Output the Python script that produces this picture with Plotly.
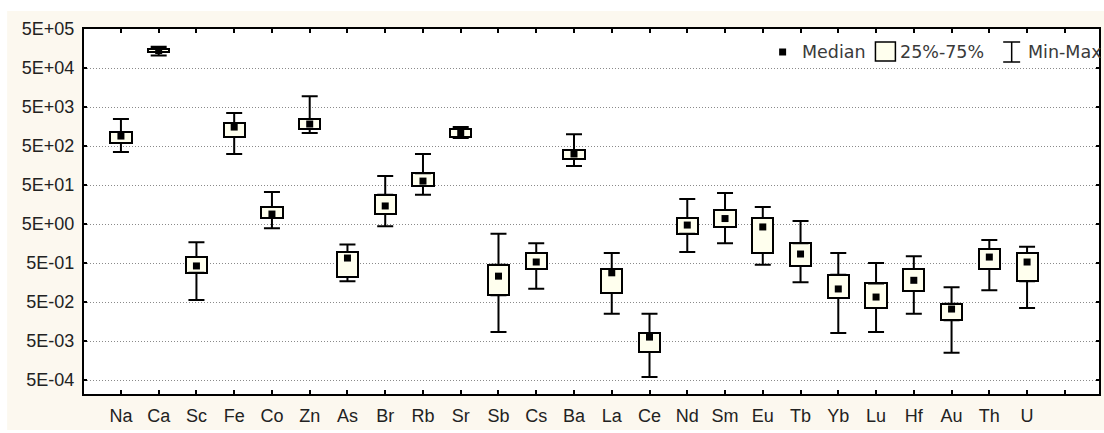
import plotly.graph_objects as go

# Element concentrations: min, quartiles, median and max per element
elements = ["Na", "Ca", "Sc", "Fe", "Co", "Zn", "As", "Br", "Rb", "Sr", "Sb", "Cs", "Ba",
            "La", "Ce", "Nd", "Sm", "Eu", "Tb", "Yb", "Lu", "Hf", "Au", "Th", "U"]
vmin = [350, 105000, 0.056, 310, 3.9, 1080, 0.17, 4.4, 28, 800, 0.0085, 0.11, 153,
        0.025, 0.0006, 0.96, 1.6, 0.45, 0.16, 0.008, 0.0085, 0.025, 0.0025, 0.10, 0.035]
q1 = [600, 128000, 0.28, 850, 7.1, 1370, 0.22, 9.0, 47, 850, 0.075, 0.35, 232,
      0.085, 0.0026, 2.8, 4.2, 0.90, 0.42, 0.063, 0.035, 0.096, 0.017, 0.35, 0.17]
median = [900, 140000, 0.42, 1530, 9.0, 1830, 0.67, 14.5, 63, 1080, 0.23, 0.53, 312,
          0.28, 0.0063, 4.7, 6.9, 4.2, 0.85, 0.108, 0.067, 0.18, 0.033, 0.71, 0.53]
q3 = [1150, 158000, 0.71, 1950, 13.6, 2460, 0.96, 28, 100, 1360, 0.45, 0.90, 394,
      0.35, 0.008, 7.1, 11.4, 7.1, 1.6, 0.25, 0.15, 0.35, 0.045, 1.14, 0.90]
vmax = [2450, 175000, 1.7, 3500, 33, 9500, 1.5, 85, 310, 1530, 2.8, 1.6, 1000,
        0.90, 0.025, 22, 31, 13.6, 6.0, 0.90, 0.5, 0.75, 0.12, 1.95, 1.3]

y_tickvals = [5e-4, 5e-3, 5e-2, 5e-1, 5e0, 5e1, 5e2, 5e3, 5e4, 5e5]
y_ticktext = ["5E-04", "5E-03", "5E-02", "5E-01", "5E+00",
              "5E+01", "5E+02", "5E+03", "5E+04", "5E+05"]

BOX_FILL = "#FFFFEE"
PAGE_CREAM = "#FCF8EF"
TEXT = "#222222"
FONT = "Liberation Sans, Arial, sans-serif"
LEGEND_FONT = "DejaVu Sans, Verdana, sans-serif"

xpos = list(range(len(elements)))
zeros = [0] * len(elements)

fig = go.Figure()

# 25%-75% boxes
fig.add_trace(go.Bar(
    x=xpos, base=q1, y=[b - a for a, b in zip(q1, q3)],
    width=0.56, marker=dict(color=BOX_FILL, line=dict(color="black", width=2)),
    showlegend=False, hoverinfo="skip",
))

# upper whiskers (q3 -> max)
fig.add_trace(go.Scatter(
    x=xpos, y=q3, mode="markers", marker=dict(size=0.1, color="rgba(0,0,0,0)"),
    error_y=dict(type="data", symmetric=False,
                 array=[b - a for a, b in zip(q3, vmax)], arrayminus=zeros,
                 color="black", thickness=2, width=8),
    showlegend=False, hoverinfo="skip",
))

# lower whiskers (q1 -> min)
fig.add_trace(go.Scatter(
    x=xpos, y=q1, mode="markers", marker=dict(size=0.1, color="rgba(0,0,0,0)"),
    error_y=dict(type="data", symmetric=False,
                 array=zeros, arrayminus=[a - b for a, b in zip(q1, vmin)],
                 color="black", thickness=2, width=8),
    showlegend=False, hoverinfo="skip",
))

# medians
fig.add_trace(go.Scatter(
    x=xpos, y=median, mode="markers",
    marker=dict(symbol="square", size=7, color="black", line=dict(width=0)),
    showlegend=False,
))

# plot area spans x pixels 84..1101 and y pixels 29..394
def px(xp):
    return (xp - 84) / 1017.0

def py(yp):
    return (394 - yp) / 365.0

shapes = [
    # white page border around the cream panel
    dict(type="rect", xref="paper", yref="paper", layer="below",
         x0=px(-5), x1=px(1110), y0=py(11), y1=py(-5),
         fillcolor="white", line=dict(width=0)),
    dict(type="rect", xref="paper", yref="paper", layer="below",
         x0=px(-5), x1=px(7), y0=py(440), y1=py(-5),
         fillcolor="white", line=dict(width=0)),
    dict(type="rect", xref="paper", yref="paper", layer="below",
         x0=px(-5), x1=px(1110), y0=py(440), y1=py(430),
         fillcolor="white", line=dict(width=0)),
    # legend: median marker
    dict(type="rect", xref="paper", yref="paper",
         x0=px(780.5), x1=px(787.5), y0=py(55.5), y1=py(48.5),
         fillcolor="black", line=dict(width=0)),
    # legend: box
    dict(type="rect", xref="paper", yref="paper",
         x0=px(877), x1=px(897), y0=py(61), y1=py(42),
         fillcolor=BOX_FILL, line=dict(color="black", width=1.5)),
    # legend: whisker I-beam
    dict(type="path", xref="paper", yref="paper",
         path=(f"M {px(1005)},{py(42)} L {px(1022)},{py(42)} "
               f"M {px(1013.5)},{py(42)} L {px(1013.5)},{py(62)} "
               f"M {px(1005)},{py(62)} L {px(1022)},{py(62)}"),
         line=dict(color="black", width=1.5)),
]

legend_font = dict(family=LEGEND_FONT, size=17.5, color="#3a3a3a")
annotations = [
    dict(text="Median", x=px(801), y=py(51.5), xref="paper", yref="paper",
         xanchor="left", yanchor="middle", showarrow=False, font=legend_font),
    dict(text="25%-75%", x=px(900), y=py(51.5), xref="paper", yref="paper",
         xanchor="left", yanchor="middle", showarrow=False, font=legend_font),
    dict(text="Min-Max", x=px(1028), y=py(51.5), xref="paper", yref="paper",
         xanchor="left", yanchor="middle", showarrow=False, font=legend_font),
]

fig.update_layout(
    width=1104, height=433,
    margin=dict(l=84, r=3, t=29, b=39),
    paper_bgcolor=PAGE_CREAM, plot_bgcolor="white",
    font=dict(family=FONT, size=18, color=TEXT),
    shapes=shapes, annotations=annotations,
    bargap=0, showlegend=False,
)

fig.update_xaxes(
    range=[-0.978, 25.905],
    tickvals=list(range(len(elements) + 1)),
    ticktext=elements + [""],
    ticks="inside", ticklen=4, tickwidth=2, tickcolor="black",
    showline=True, linecolor="black", linewidth=2, mirror="ticks",
    showgrid=False, zeroline=False,
    tickfont=dict(family=FONT, size=18, color=TEXT),
    ticklabelstandoff=4,
)

fig.update_yaxes(
    type="log", range=[-3.660, 5.699],
    tickvals=y_tickvals, ticktext=y_ticktext,
    ticks="inside", ticklen=3, tickwidth=2, tickcolor="black",
    showline=True, linecolor="black", linewidth=2, mirror="ticks",
    showgrid=True, gridcolor="#8a8a8a", gridwidth=1, griddash="1px,2px",
    zeroline=False,
    tickfont=dict(family=FONT, size=18, color=TEXT),
    ticklabelstandoff=4,
)

fig.write_html("out.html")
